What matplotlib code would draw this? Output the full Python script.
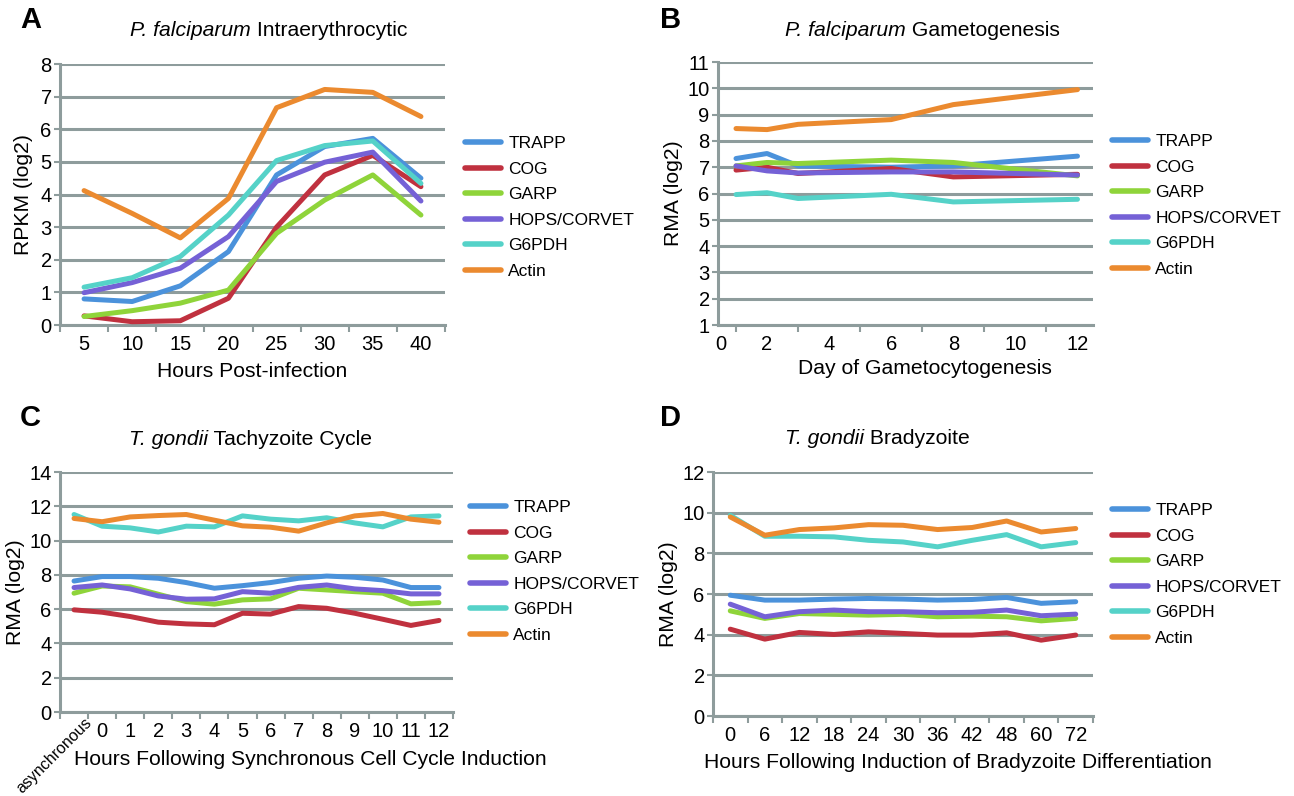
import matplotlib
matplotlib.use("Agg")
import matplotlib.pyplot as plt
import matplotlib.transforms as mtransforms
from matplotlib.lines import Line2D

plt.rcParams['font.family'] = ['Liberation Sans', 'DejaVu Sans']

W, H = 1294, 796

series = ["TRAPP", "COG", "GARP", "HOPS/CORVET", "G6PDH", "Actin"]
colors = ["#4b92db", "#c0313f", "#8fd43a", "#7561d6", "#55d2c8", "#eb8a2f"]
grid_col = "#8e9c9c"

# A: P. falciparum intraerythrocytic (RPKM log2)
a_hours = ["5", "10", "15", "20", "25", "30", "35", "40"]
a_trapp = [0.80, 0.72, 1.20, 2.25, 4.60, 5.47, 5.72, 4.50]
a_cog = [0.28, 0.10, 0.13, 0.82, 3.00, 4.60, 5.20, 4.24]
a_garp = [0.26, 0.44, 0.67, 1.07, 2.81, 3.83, 4.60, 3.37]
a_hops = [0.99, 1.30, 1.74, 2.71, 4.40, 4.99, 5.30, 3.80]
a_g6pdh = [1.16, 1.45, 2.10, 3.37, 5.04, 5.50, 5.64, 4.34]
a_actin = [4.12, 3.42, 2.67, 3.88, 6.66, 7.22, 7.13, 6.39]

# B: P. falciparum gametogenesis (RMA log2)
b_days = [1, 2, 3, 6, 8, 12]
b_trapp = [7.33, 7.52, 7.05, 7.00, 7.05, 7.42]
b_cog = [6.89, 7.00, 6.76, 6.95, 6.63, 6.73]
b_garp = [7.05, 7.18, 7.14, 7.27, 7.18, 6.67]
b_hops = [7.05, 6.86, 6.78, 6.82, 6.82, 6.70]
b_g6pdh = [5.96, 6.03, 5.81, 5.97, 5.68, 5.78]
b_actin = [8.47, 8.43, 8.63, 8.81, 9.38, 9.95]

# C: T. gondii tachyzoite cycle (RMA log2)
c_hours = ["asynchronous", "0", "1", "2", "3", "4", "5", "6", "7", "8", "9", "10", "11", "12"]
c_trapp = [7.64, 7.90, 7.90, 7.80, 7.55, 7.22, 7.37, 7.55, 7.80, 7.93, 7.86, 7.70, 7.26, 7.26]
c_cog = [5.96, 5.82, 5.57, 5.24, 5.14, 5.09, 5.76, 5.71, 6.15, 6.05, 5.76, 5.41, 5.05, 5.34]
c_garp = [6.93, 7.35, 7.30, 6.87, 6.44, 6.29, 6.54, 6.60, 7.22, 7.12, 7.02, 6.93, 6.31, 6.38]
c_hops = [7.26, 7.41, 7.18, 6.77, 6.58, 6.60, 7.02, 6.93, 7.27, 7.41, 7.18, 7.08, 6.89, 6.89]
c_g6pdh = [11.52, 10.84, 10.74, 10.50, 10.84, 10.80, 11.44, 11.25, 11.15, 11.33, 11.03, 10.80, 11.38, 11.44]
c_actin = [11.29, 11.10, 11.38, 11.46, 11.52, 11.19, 10.86, 10.78, 10.55, 11.03, 11.44, 11.58, 11.25, 11.07]

# D: T. gondii bradyzoite differentiation (RMA log2)
d_hours = ["0", "6", "12", "18", "24", "30", "36", "42", "48", "60", "72"]
d_trapp = [5.94, 5.70, 5.70, 5.75, 5.78, 5.75, 5.70, 5.73, 5.83, 5.54, 5.62]
d_cog = [4.27, 3.78, 4.11, 4.01, 4.14, 4.06, 3.98, 3.98, 4.09, 3.73, 3.98]
d_garp = [5.17, 4.80, 5.04, 5.00, 4.96, 5.00, 4.88, 4.91, 4.88, 4.68, 4.80]
d_hops = [5.50, 4.88, 5.13, 5.21, 5.13, 5.13, 5.08, 5.10, 5.21, 4.93, 5.01]
d_g6pdh = [9.87, 8.84, 8.84, 8.81, 8.64, 8.56, 8.32, 8.64, 8.92, 8.32, 8.53]
d_actin = [9.79, 8.89, 9.17, 9.25, 9.41, 9.38, 9.17, 9.27, 9.59, 9.05, 9.22]


def box(l, r, t, b):
    return [l / W, 1 - b / H, (r - l) / W, (b - t) / H]


def style_axes(ax, ymin, ymax, ystep):
    ax.set_ylim(ymin, ymax)
    ax.set_yticks(range(ymin, ymax + 1, ystep))
    ax.grid(axis='y', color=grid_col, linewidth=2.2, zorder=0)
    for s in ["top", "right"]:
        ax.spines[s].set_visible(False)
    for s in ["left", "bottom"]:
        ax.spines[s].set_color(grid_col)
        ax.spines[s].set_linewidth(2.2)
    ax.tick_params(axis='y', length=4, width=1.5, color=grid_col, labelsize=14.5, pad=2)
    ax.tick_params(axis='x', which='minor', length=5, width=1.5, color=grid_col)
    ax.tick_params(axis='x', which='major', length=0, labelsize=14.5, pad=7)
    ax.set_axisbelow(True)


def category_axis(ax, labels):
    n = len(labels)
    ax.set_xlim(-0.5, n - 0.5)
    ax.set_xticks(range(n))
    ax.set_xticklabels(labels)
    ax.set_xticks([i - 0.5 for i in range(n + 1)], minor=True)


def plot_all(ax, x, data):
    for vals, c in zip(data, colors):
        ax.plot(x, vals, color=c, linewidth=3.6, solid_capstyle='round',
                solid_joinstyle='round', zorder=3)


def title(fig, split_x, y, it, rest):
    fig.text(split_x / W, 1 - y / H, it, style='italic', ha='right', va='center', fontsize=15.2)
    fig.text(split_x / W, 1 - y / H, " " + rest, ha='left', va='center', fontsize=15.2)


def legend(fig, x, y):
    handles = [Line2D([], [], color=c, linewidth=4, solid_capstyle='round') for c in colors]
    fig.legend(handles, series, loc='upper left', bbox_to_anchor=(x / W, 1 - y / H),
               frameon=False, fontsize=12.5, handlelength=2.05, handletextpad=0.45,
               labelspacing=0.6, borderpad=0, borderaxespad=0)


fig = plt.figure(figsize=(W / 100, H / 100), dpi=100)

# panel A
axA = fig.add_axes(box(60, 445, 64, 325))
plot_all(axA, range(len(a_hours)), [a_trapp, a_cog, a_garp, a_hops, a_g6pdh, a_actin])
style_axes(axA, 0, 8, 1)
category_axis(axA, a_hours)
axA.set_xlabel("Hours Post-infection", fontsize=15.2, labelpad=6)
axA.set_ylabel("RPKM (log2)", fontsize=15.2, labelpad=5)
title(fig, 251, 30, "P. falciparum", "Intraerythrocytic")
legend(fig, 465, 136)

# panel B
axB = fig.add_axes(box(718, 1093, 62, 325))
plot_all(axB, b_days, [b_trapp, b_cog, b_garp, b_hops, b_g6pdh, b_actin])
style_axes(axB, 1, 11, 1)
axB.set_xlim(0.42, 12.5)
axB.set_xticks([0.5, 2, 4, 6, 8, 10, 12])
axB.set_xticklabels(["0", "2", "4", "6", "8", "10", "12"])
axB.set_xticks([1, 3, 5, 7, 9, 11], minor=True)
axB.set_xlabel("Day of Gametocytogenesis", fontsize=15.2)
axB.xaxis.set_label_coords((925 - 718) / 375, -0.13)
axB.set_ylabel("RMA (log2)", fontsize=15.2, labelpad=3)
title(fig, 906, 30, "P. falciparum", "Gametogenesis")
legend(fig, 1112, 134)

# panel C
axC = fig.add_axes(box(60, 453, 472, 712))
plot_all(axC, range(len(c_hours)), [c_trapp, c_cog, c_garp, c_hops, c_g6pdh, c_actin])
style_axes(axC, 0, 14, 2)
category_axis(axC, c_hours)
axC.set_xticklabels([""] + c_hours[1:])
# rotated first category label, nudged right like the original
shift = mtransforms.ScaledTranslation(10 / 100, -3 / 100, fig.dpi_scale_trans)
axC.text(0, 0, c_hours[0], transform=axC.get_xaxis_transform() + shift,
         rotation=45, rotation_mode='anchor', ha='right', va='top', fontsize=11.5)
axC.set_xlabel("Hours Following Synchronous Cell Cycle Induction", fontsize=15.2)
axC.xaxis.set_label_coords((310 - 60) / 393, -0.16)
axC.set_ylabel("RMA (log2)", fontsize=15.2, labelpad=3)
title(fig, 208, 440, "T. gondii", "Tachyzoite Cycle")
legend(fig, 470, 500)

# panel D
axD = fig.add_axes(box(713, 1093, 472, 716))
plot_all(axD, range(len(d_hours)), [d_trapp, d_cog, d_garp, d_hops, d_g6pdh, d_actin])
style_axes(axD, 0, 12, 2)
category_axis(axD, d_hours)
axD.set_xlabel("Hours Following Induction of Bradyzoite Differentiation", fontsize=15.2)
axD.xaxis.set_label_coords((958 - 713) / 380, -0.15)
axD.set_ylabel("RMA (log2)", fontsize=15.2, labelpad=3)
title(fig, 864, 438, "T. gondii", "Bradyzoite")
legend(fig, 1112, 503)

# panel letters
for letter, x, y in [("A", 20, 20), ("B", 660, 20), ("C", 20, 418), ("D", 660, 418)]:
    fig.text(x / W, 1 - y / H, letter, fontsize=21, fontweight='bold', ha='left', va='center')

fig.savefig("out.png", dpi=100)
